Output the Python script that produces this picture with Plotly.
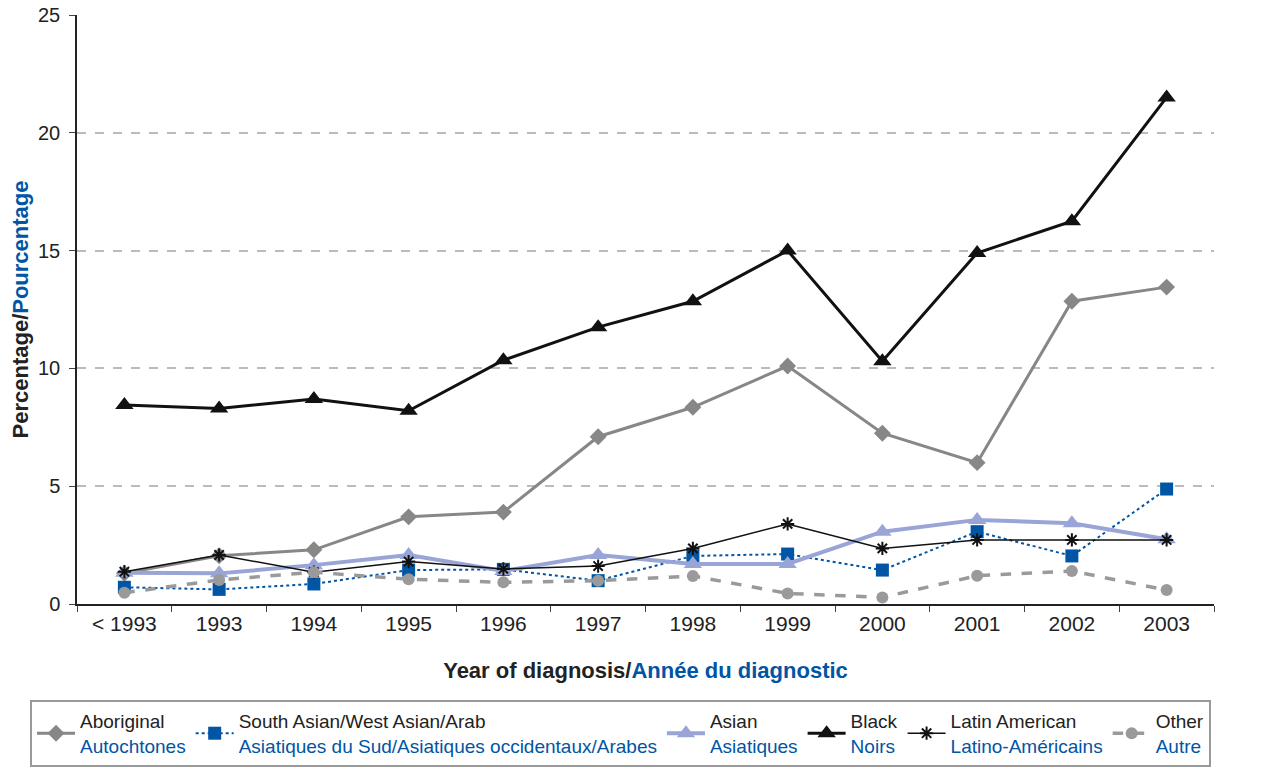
import plotly.graph_objects as go

years = ["< 1993", "1993", "1994", "1995", "1996", "1997", "1998", "1999", "2000", "2001", "2002", "2003"]

aboriginal = [1.3, 2.05, 2.3, 3.7, 3.9, 7.1, 8.35, 10.1, 7.25, 6.0, 12.85, 13.45]
south_asian = [0.71, 0.62, 0.85, 1.44, 1.47, 0.99, 2.04, 2.12, 1.44, 3.07, 2.04, 4.88]
asian = [1.33, 1.3, 1.65, 2.08, 1.4, 2.08, 1.7, 1.7, 3.07, 3.57, 3.43, 2.75]
black = [8.45, 8.3, 8.7, 8.2, 10.35, 11.75, 12.85, 15.0, 10.3, 14.9, 16.25, 21.5]
latin = [1.37, 2.08, 1.35, 1.8, 1.49, 1.61, 2.36, 3.4, 2.36, 2.72, 2.72, 2.72]
other = [0.48, 1.02, 1.35, 1.05, 0.92, 0.99, 1.19, 0.45, 0.28, 1.2, 1.4, 0.59]

BLUE = "#0055a4"

def nm(en, fr):
    return f"{en}<br><span style='color:{BLUE}'>{fr}</span>"

fig = go.Figure()
fig.add_trace(go.Scatter(x=years, y=aboriginal, name=nm("Aboriginal", "Autochtones"), mode="lines+markers",
                         line=dict(color="#878787", width=3),
                         marker=dict(symbol="diamond", size=13, color="#878787")))
fig.add_trace(go.Scatter(x=years, y=south_asian, name=nm("South Asian/West Asian/Arab", "Asiatiques du Sud/Asiatiques occidentaux/Arabes"),
                         mode="lines+markers",
                         line=dict(color=BLUE, width=2, dash="dot"),
                         marker=dict(symbol="square", size=13, color=BLUE)))
fig.add_trace(go.Scatter(x=years, y=asian, name=nm("Asian", "Asiatiques"), mode="lines+markers",
                         line=dict(color="#98a5d6", width=4),
                         marker=dict(symbol="triangle-up", size=16, color="#98a5d6")))
fig.add_trace(go.Scatter(x=years, y=black, name=nm("Black", "Noirs"), mode="lines+markers",
                         line=dict(color="#111111", width=3),
                         marker=dict(symbol="triangle-up", size=16, color="#111111")))
fig.add_trace(go.Scatter(x=years, y=latin, name=nm("Latin American", "Latino-Américains"), mode="lines+markers",
                         line=dict(color="#111111", width=1.5),
                         marker=dict(symbol="asterisk-open", size=11, color="#111111",
                                     line=dict(color="#111111", width=2))))
fig.add_trace(go.Scatter(x=years, y=other, name=nm("Other", "Autre"), mode="lines+markers",
                         line=dict(color="#9a9a9a", width=3.5, dash="dash"),
                         marker=dict(symbol="circle", size=12, color="#9a9a9a")))

fig.update_layout(
    width=1284, height=770,
    margin=dict(l=69, r=78, t=7, b=174),
    paper_bgcolor="white", plot_bgcolor="white",
    font=dict(family="Liberation Sans, Arial, sans-serif", color="#222222", size=18),
    showlegend=True,
    legend=dict(orientation="h", x=-0.0413, xanchor="left", y=-0.163, yanchor="top",
                bordercolor="#999999", borderwidth=2, bgcolor="white",
                font=dict(size=19, color="#222222"), valign="middle",
                itemwidth=38, tracegroupgap=0),
)
fig.update_xaxes(
    type="category", range=[-0.5, 11.5], automargin=False,
    showline=True, linecolor="#222222", linewidth=1.5,
    ticks="outside", tickson="boundaries", ticklen=6, tickcolor="#444444",
    tickfont=dict(size=21, color="#222222"),
    showgrid=False,
    title=dict(text="<b>Year of diagnosis/<span style='color:%s'>Année du diagnostic</span></b>" % BLUE,
               font=dict(size=22, color="#222222"), standoff=29),
)
fig.update_yaxes(
    range=[0, 25], dtick=5, tick0=0, automargin=False,
    showline=True, linecolor="#222222", linewidth=1.5,
    ticks="outside", ticklen=6, tickcolor="#444444",
    tickfont=dict(size=20, color="#222222"), ticklabelstandoff=5,
    ticklabeloverflow="allow",
    showgrid=True, gridcolor="#bbbbbb", griddash="dash", gridwidth=1.5,
    zeroline=False,
    title=dict(text="<b>Percentage/<span style='color:%s'>Pourcentage</span></b>" % BLUE,
               font=dict(size=22, color="#222222"), standoff=9),
)

fig.write_html("out.html")
